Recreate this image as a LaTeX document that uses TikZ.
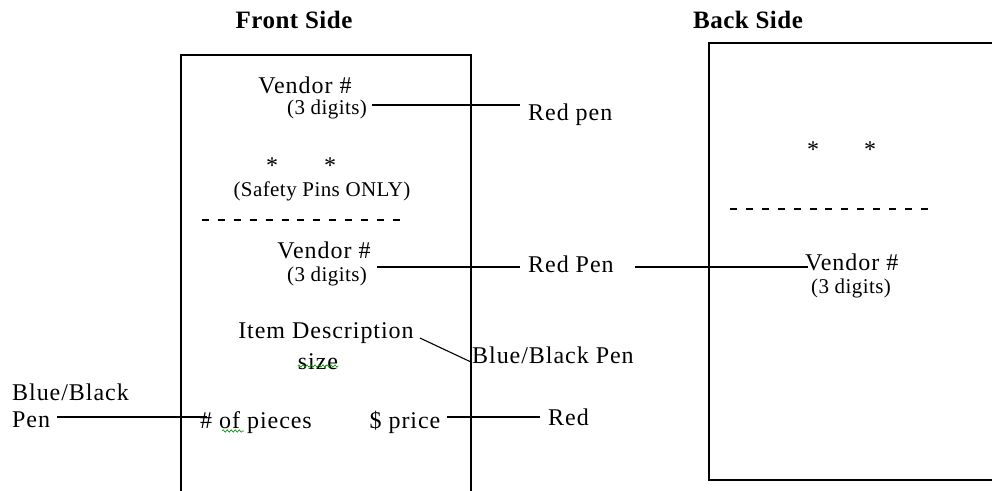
\documentclass[tikz,border=0pt]{standalone}
\usepackage{fontspec}
\setmainfont{Liberation Serif}
\usetikzlibrary{decorations.pathmorphing}
\begin{document}
\begin{tikzpicture}[x=1pt,y=-1pt,
  lbl/.style={inner sep=0pt,anchor=base,font=\fontsize{24}{26}\selectfont\addfontfeature{LetterSpace=4}},
  lblw/.style={lbl,anchor=base west},
  sml/.style={inner sep=0pt,anchor=base,font=\fontsize{21}{23}\selectfont\addfontfeature{LetterSpace=2}},
  starmark/.style={inner sep=0pt,font=\fontsize{24}{26}\selectfont},
  ttl/.style={inner sep=0pt,anchor=base,font=\fontsize{25}{27}\selectfont\bfseries\addfontfeature{LetterSpace=2}},
  card/.style={line width=1.4pt},
  wire/.style={line width=1.1pt},
  cut/.style={line width=1.2pt,dash pattern=on 7pt off 8.9pt},
  squiggle/.style={draw=green!55!black,line width=0.6pt,
    decorate,decoration={snake,amplitude=1.2pt,segment length=4pt}}]
\useasboundingbox[fill=white] (0,0) rectangle (992,490);

% titles
\node[ttl] (ftitle) at (294,28) {Front Side};
\node[ttl] (btitle) at (748,28) {Back Side};

% card outlines
\draw[card] (181,492) -- (181,55) -- (471,55) -- (471,492);
\draw[card] (994,43) -- (709,43) -- (709,480) -- (994,480);

% front side contents
\node[lbl] (vendA) at (305,93) {Vendor \#};
\node[sml] (digA) at (327,114) {(3 digits)};
\node[starmark] (starA) at (272,166) {*};
\node[starmark] (starB) at (330,166) {*};
\node[sml] (pins) at (322,196) {(Safety Pins ONLY)};
\coordinate (fcutL) at (202,220);
\coordinate (fcutR) at (400,220);
\draw[cut] (fcutL) -- (fcutR);
\node[lbl] (vendB) at (324,258) {Vendor \#};
\node[sml] (digB) at (327,281) {(3 digits)};
\node[lbl] (item) at (326,338) {Item Description};
\node[lbl] (size) at (318,369) {size};
\draw[squiggle] ([yshift=3pt]size.base west) -- ([yshift=3pt]size.base east);
\node[lblw] (pieces) at (200,428) {\# of pieces};
\node[lbl] (price) at (405,428) {\$ price};
\coordinate (sqA) at (222,431);
\coordinate (sqB) at (244,431);
\draw[squiggle] (sqA) -- (sqB);

% back side contents
\node[starmark] (starC) at (813,150) {*};
\node[starmark] (starD) at (870,150) {*};
\coordinate (bcutL) at (730,209);
\coordinate (bcutR) at (928,209);
\draw[cut] (bcutL) -- (bcutR);
\node[lblw] (vendC) at (805,270) {Vendor \#};
\node[sml] (digC) at (851,293) {(3 digits)};

% pen labels
\node[lblw] (redA) at (528,120) {Red pen};
\node[lblw] (redB) at (528,272) {Red Pen};
\node[lblw] (bbPen) at (472,363) {Blue/Black Pen};
\node[lblw] (redC) at (548,425) {Red};
\node[lblw] (bbA) at (12,400) {Blue/Black};
\node[lblw] (bbB) at (12,427) {Pen};

% connectors
\draw[wire] ([shift={(5,-9)}]digA.base east) -- ([shift={(-8,-9)}]digA.base east -| redA.west);
\draw[wire] ([shift={(10,-14)}]digB.base east) -- ([shift={(-8,-14)}]digB.base east -| redB.west);
\draw[wire] ([shift={(21,-5)}]redB.base east) -- ([shift={(3,-3)}]vendC.base west);
\draw[wire] ([shift={(6,0)}]item.base east) -- ([shift={(-1,-1)}]bbPen.base west);
\draw[wire] ([shift={(6,-11)}]price.base east) -- ([shift={(-8,-11)}]price.base east -| redC.west);
\draw[wire] ([shift={(7,-10)}]bbB.base east) -- ([shift={(7,-10)}]bbB.base east -| pieces.west);
\end{tikzpicture}
\end{document}
